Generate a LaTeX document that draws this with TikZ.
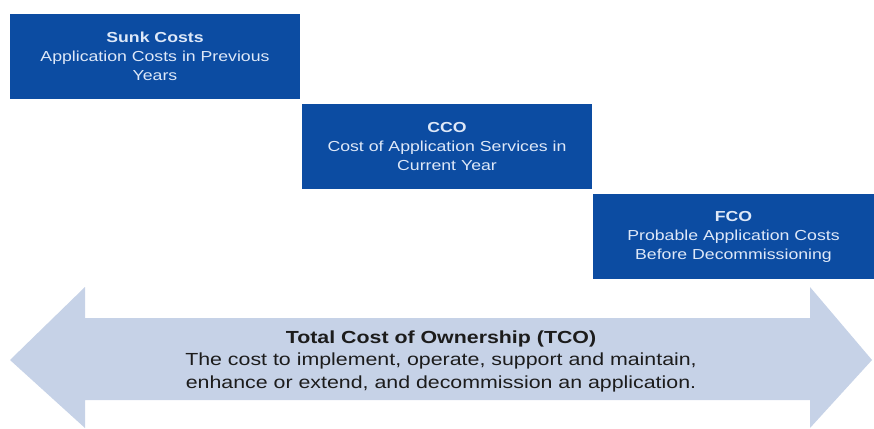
\documentclass[tikz,border=0pt]{standalone}
\usepackage{fontspec}
\setmainfont{Liberation Sans}[FakeStretch=1.22]
\usepackage{tikz}
\usetikzlibrary{positioning}

\definecolor{boxblue}{RGB}{12,76,162}
\definecolor{boxtext}{RGB}{222,232,248}
\definecolor{arrowblue}{RGB}{198,210,231}
\definecolor{arrowtext}{RGB}{28,28,28}

\begin{document}
\begin{tikzpicture}[
    x=1pt, y=-1pt,
    costbox/.style={fill=boxblue, text=boxtext, align=center, inner sep=0pt,
      minimum height=85pt, font=\fontsize{14.5}{19}\selectfont},
    tcotext/.style={text=arrowtext, align=center,
      font=\fontsize{17.5}{22.5}\selectfont}
  ]
    \useasboundingbox (0,0) rectangle (874,428);

    % cost boxes, stepped down to the right
    \node[costbox, minimum width=290pt] (sunk) at (155,56.5)
      {\textbf{Sunk Costs}\\Application Costs in Previous\\Years};
    \node[costbox, minimum width=290pt] (cco) at (447,146.5)
      {\textbf{CCO}\\Cost of Application Services in\\Current Year};
    \node[costbox, minimum width=281pt] (fco) at (733.5,236.5)
      {\textbf{FCO}\\Probable Application Costs\\Before Decommissioning};

    % double arrow
    \fill[arrowblue] (10,360) -- (85,287) -- (85,318) -- (810,318)
      -- (810,287) -- (872,360) -- (810,428) -- (810,400)
      -- (85,400) -- (85,428) -- cycle;

    \node[tcotext] (tco) at (441,361)
      {\textbf{Total Cost of Ownership (TCO)}\\
       The cost to implement, operate, support and maintain,\\
       enhance or extend, and decommission an application.};
  \end{tikzpicture}
\end{document}
